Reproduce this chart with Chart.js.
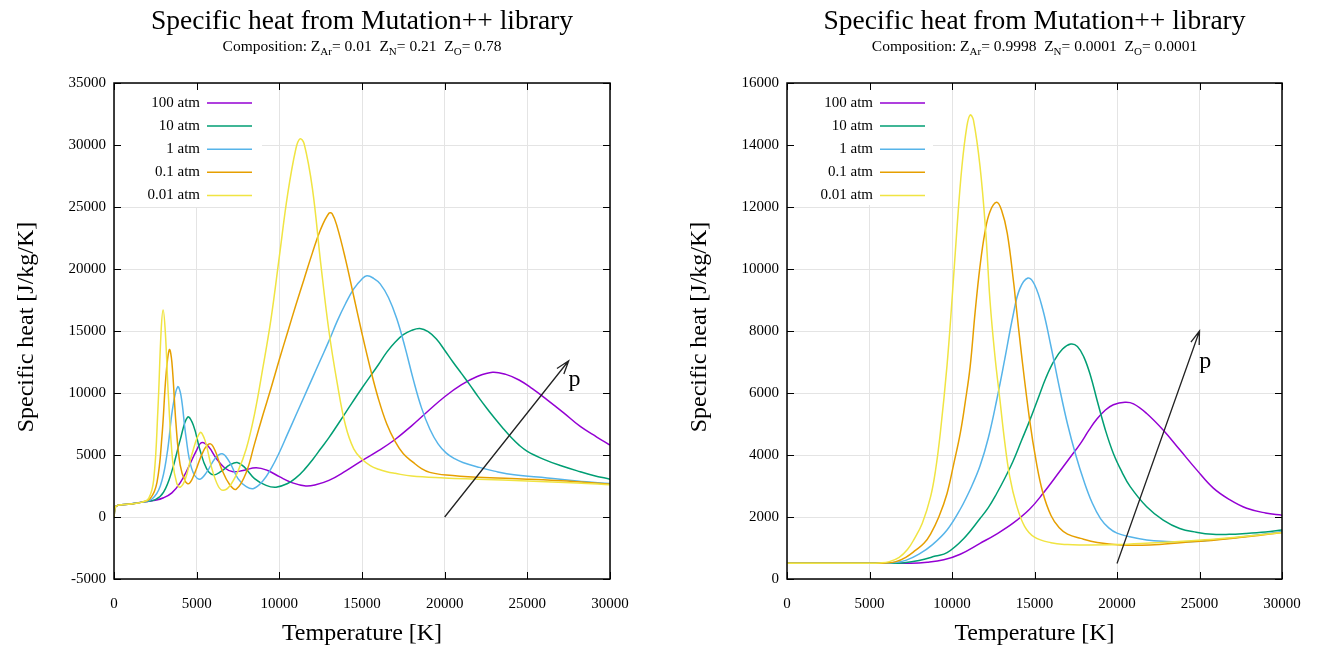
<!DOCTYPE html>
<html>
<head>
<meta charset="utf-8">
<script src="https://cdn.jsdelivr.net/npm/chart.js@4.4.0/dist/chart.umd.min.js"></script>
<style>
  body { margin: 0; background: #fff; }
  #wrap { position: relative; width: 1317px; height: 649px; }
  canvas { position: absolute; top: 0; }
</style>
</head>
<body>
<div id="wrap">
  <canvas id="left" width="658" height="649" style="left:0"></canvas>
  <canvas id="right" width="659" height="649" style="left:658px"></canvas>
</div>
<script>
// pressures, legend order
const pressures = ['100 atm', '10 atm', '1 atm', '0.1 atm', '0.01 atm']
const colors = ['#9400d3', '#009e73', '#56b4e9', '#e69f00', '#f0e442']

// left chart: Z_Ar 0.01, Z_N 0.21, Z_O 0.78   [T (K), cp (J/kg/K)]
const left100 = [[0,0],[100,850],[1000,1050],[1700,1200],[2500,1350],[3000,1550],[3500,1950],[4000,2750],[4500,4000],[5000,5400],[5300,6000],[5700,5700],[6200,4700],[6700,3950],[7200,3650],[7800,3750],[8600,3980],[9300,3750],[10000,3250],[10800,2750],[11600,2500],[12200,2600],[13000,2950],[14000,3700],[15000,4550],[16000,5350],[17000,6250],[18000,7350],[19000,8550],[20000,9700],[21000,10650],[22000,11350],[22900,11680],[23700,11500],[24500,11050],[25300,10350],[26200,9450],[27200,8400],[28200,7300],[29200,6450],[30000,5800]]
const left10 = [[0,0],[100,850],[1000,1050],[1700,1200],[2500,1400],[3000,2000],[3500,3700],[4000,6200],[4450,8050],[4800,7400],[5200,5400],[5600,3900],[6000,3400],[6500,3700],[7000,4200],[7450,4400],[7900,4000],[8500,3100],[9200,2550],[9800,2400],[10500,2700],[11000,3150],[11500,3800],[12000,4600],[12500,5500],[13000,6400],[14000,8400],[15000,10400],[16000,12300],[16500,13300],[17000,14100],[17500,14700],[18000,15050],[18500,15200],[19000,14950],[19500,14350],[20000,13450],[20500,12500],[21000,11600],[21500,10700],[22000,9750],[22500,8850],[23000,8000],[23500,7200],[24000,6450],[24500,5800],[25000,5300],[26000,4650],[27000,4150],[28200,3650],[29000,3350],[30000,3050]]
const left1 = [[0,0],[100,850],[1000,1050],[1700,1200],[2300,1450],[2800,2500],[3200,5000],[3550,8800],[3850,10500],[4050,9800],[4350,6500],[4700,3900],[5150,3050],[5600,3600],[6100,4700],[6550,5100],[7000,4400],[7500,3100],[8000,2450],[8450,2300],[9000,2900],[9500,3900],[10000,5200],[10500,6700],[11000,8200],[11500,9700],[12000,11200],[12500,12700],[13000,14200],[13500,15800],[14000,17200],[14500,18400],[15000,19200],[15300,19450],[15700,19250],[16100,18800],[16600,17700],[17100,16000],[17600,13700],[18100,11100],[18600,8800],[19100,7100],[19600,5900],[20100,5150],[20600,4700],[21100,4400],[22100,4000],[23000,3700],[24200,3400],[26200,3150],[28000,2900],[30000,2700]]
const left01 = [[0,0],[100,850],[1000,1050],[1700,1200],[2200,1500],[2600,2800],[2900,6500],[3150,11500],[3350,13500],[3500,12500],[3750,7500],[4000,4200],[4300,2900],[4550,2700],[4900,3600],[5400,5300],[5800,5900],[6100,5400],[6500,3900],[7000,2600],[7400,2250],[8000,3600],[8500,5900],[9000,8200],[9500,10400],[10000,12700],[10500,14900],[11000,17100],[11500,19200],[12000,21300],[12500,23200],[13000,24500],[13200,24450],[13500,23400],[14000,20800],[14500,17800],[15000,14800],[15500,12000],[16000,9500],[16500,7500],[17000,6100],[17500,5100],[18100,4400],[18600,3900],[19100,3600],[20100,3380],[22000,3200],[25000,3050],[28000,2850],[30000,2650]]
const left001 = [[0,0],[100,850],[1000,1050],[1700,1200],[2100,1500],[2400,3000],[2650,8500],[2850,15000],[2970,16700],[3100,15000],[3300,9500],[3550,4500],[3800,2700],[4000,2400],[4300,3000],[4700,5000],[5200,6800],[5500,6200],[5900,4000],[6300,2500],[6600,2150],[7000,2500],[7500,3700],[8000,5500],[8500,8300],[9000,12000],[9500,16000],[10000,21000],[10500,26000],[11000,29700],[11250,30500],[11500,30100],[12000,26500],[12500,20500],[13000,15000],[13500,10800],[14000,7400],[14500,5500],[15000,4650],[15500,4150],[16000,3850],[16500,3650],[17000,3520],[18000,3300],[20000,3150],[22000,3050],[25000,2900],[28000,2750],[30000,2600]]

// right chart: Z_Ar 0.9998, Z_N 0.0001, Z_O 0.0001
const right100 = [[0,510],[7500,510],[8500,540],[9500,620],[10500,800],[11700,1150],[12700,1450],[13700,1800],[14700,2250],[15500,2750],[16500,3450],[17200,3950],[17760,4350],[18300,4800],[18770,5150],[19300,5450],[19780,5620],[20480,5700],[21000,5650],[21800,5340],[22810,4800],[23820,4160],[24830,3520],[25840,2930],[26850,2550],[27860,2280],[29000,2130],[30000,2060]]
const right10 = [[0,510],[6500,510],[7000,520],[8000,600],[9000,740],[9700,850],[10700,1300],[11700,1950],[12200,2300],[12700,2750],[13200,3250],[13700,3800],[14200,4450],[14700,5100],[15200,5800],[15700,6500],[16200,7050],[16700,7420],[17200,7580],[17600,7500],[18000,7150],[18400,6550],[18800,5750],[19300,4800],[19780,4050],[20300,3450],[20800,2980],[21800,2330],[22800,1900],[23800,1630],[24800,1510],[25800,1440],[26800,1440],[27800,1470],[29000,1520],[30000,1580]]
const right1 = [[0,510],[6000,510],[6500,530],[7200,600],[8000,800],[8800,1100],[9700,1580],[10500,2250],[11200,3000],[11700,3650],[12200,4550],[12700,5750],[13200,7100],[13700,8500],[14100,9350],[14600,9710],[15000,9500],[15500,8700],[16000,7500],[16500,6200],[17000,5000],[17500,4000],[18000,3150],[18500,2450],[19000,1950],[19500,1650],[20000,1480],[20700,1370],[21800,1260],[23000,1210],[23800,1200],[25000,1220],[25800,1260],[27000,1320],[28500,1420],[30000,1530]]
const right01 = [[0,510],[5500,510],[6000,520],[6600,560],[7200,700],[7800,930],[8300,1150],[8700,1450],[9200,2000],[9700,2760],[10100,3700],[10500,4700],[10800,5700],[11100,6850],[11400,8600],[11700,10100],[12000,11200],[12300,11850],[12700,12150],[13000,11900],[13350,11150],[13750,9500],[13850,9000],[14200,7300],[14700,5150],[15100,3800],[15500,2800],[16000,2050],[16500,1650],[17000,1450],[17800,1310],[18800,1180],[20200,1100],[22000,1100],[24000,1180],[26000,1260],[28000,1370],[30000,1500]]
const right001 = [[0,510],[5000,510],[5600,520],[6200,560],[6800,700],[7300,950],[7700,1280],[8200,1800],[8700,2650],[9000,3500],[9300,4750],[9700,6900],[10000,9000],[10300,11300],[10600,13300],[10900,14600],[11100,14970],[11300,14800],[11700,13300],[12050,11150],[12300,9000],[12600,7200],[12900,5800],[13200,4400],[13500,3300],[13900,2400],[14400,1700],[15000,1350],[16000,1170],[17000,1110],[18000,1100],[20000,1110],[22000,1160],[24000,1220],[26000,1290],[28000,1390],[30000,1500]]

const xTicks = [0, 5000, 10000, 15000, 20000, 25000, 30000]
const leftYRange = [-5000, 35000, 5000]
const rightYRange = [0, 16000, 2000]

// pressure arrow [from, to] and the "p" label, in data units
const leftArrow = [[20000, 0], [27500, 12600]]
const leftArrowLabel = [27850, 11050]
const rightArrow = [[20000, 500], [25000, 8000]]
const rightArrowLabel = [25350, 7000]

const title = 'Specific heat from Mutation++ library'
// [text, subscript?]
const leftComp = [['Composition: Z', 0], ['Ar', 1], ['= 0.01  Z', 0], ['N', 1], ['= 0.21  Z', 0], ['O', 1], ['= 0.78', 0]]
const rightComp = [['Composition: Z', 0], ['Ar', 1], ['= 0.9998  Z', 0], ['N', 1], ['= 0.0001  Z', 0], ['O', 1], ['= 0.0001', 0]]

const SERIF = "'Liberation Serif', 'DejaVu Serif', serif"

const decor = {
  id: 'decor',
  afterDatasetsDraw(chart, args, o) {
    const {ctx, chartArea: a, scales: {x, y}} = chart
    ctx.save()

    // arrow
    const x0 = x.getPixelForValue(o.arrow[0][0]), y0 = y.getPixelForValue(o.arrow[0][1])
    const x1 = x.getPixelForValue(o.arrow[1][0]), y1 = y.getPixelForValue(o.arrow[1][1])
    ctx.strokeStyle = '#222'
    ctx.lineWidth = 1.3
    ctx.beginPath()
    ctx.moveTo(x0, y0)
    ctx.lineTo(x1, y1)
    const ang = Math.atan2(y1 - y0, x1 - x0)
    const hl = 14, ha = 0.32
    ctx.moveTo(x1 - hl * Math.cos(ang - ha), y1 - hl * Math.sin(ang - ha))
    ctx.lineTo(x1, y1)
    ctx.lineTo(x1 - hl * Math.cos(ang + ha), y1 - hl * Math.sin(ang + ha))
    ctx.stroke()
    ctx.fillStyle = '#000'
    ctx.font = '24px ' + SERIF
    ctx.textAlign = 'center'
    ctx.textBaseline = 'middle'
    ctx.fillText('p', x.getPixelForValue(o.label[0]), y.getPixelForValue(o.label[1]))

    // key box
    ctx.fillStyle = '#fff'
    ctx.fillRect(a.left + 1, a.top + 1, o.keyW, o.keyH)
    ctx.font = '15px ' + SERIF
    ctx.textAlign = 'right'
    pressures.forEach((p, i) => {
      const ry = a.top + 20 + i * 23.1
      ctx.fillStyle = '#000'
      ctx.fillText(p, a.left + 86, ry)
      ctx.strokeStyle = colors[i]
      ctx.lineWidth = 1.5
      ctx.beginPath()
      ctx.moveTo(a.left + 93, ry)
      ctx.lineTo(a.left + 138, ry)
      ctx.stroke()
    })

    // border with inward ticks
    ctx.strokeStyle = '#000'
    ctx.lineWidth = 1.5
    ctx.strokeRect(a.left, a.top, a.right - a.left, a.bottom - a.top)
    ctx.lineWidth = 1
    ctx.beginPath()
    x.ticks.forEach(t => {
      const px = Math.round(x.getPixelForValue(t.value)) + 0.5
      ctx.moveTo(px, a.bottom); ctx.lineTo(px, a.bottom - 7)
      ctx.moveTo(px, a.top); ctx.lineTo(px, a.top + 7)
    })
    y.ticks.forEach(t => {
      const py = Math.round(y.getPixelForValue(t.value)) + 0.5
      ctx.moveTo(a.left, py); ctx.lineTo(a.left + 7, py)
      ctx.moveTo(a.right, py); ctx.lineTo(a.right - 7, py)
    })
    ctx.stroke()
    ctx.restore()
  },
  afterDraw(chart, args, o) {
    const {ctx, chartArea: a} = chart
    const cx = (a.left + a.right) / 2
    ctx.save()
    ctx.fillStyle = '#000'
    ctx.textBaseline = 'alphabetic'
    ctx.textAlign = 'center'
    ctx.font = '27.5px ' + SERIF
    ctx.fillText(title, cx, 29)

    // subtitle with subscripts
    const big = '15.5px ' + SERIF, small = '11px ' + SERIF
    let w = 0
    o.comp.forEach(([s, sub]) => { ctx.font = sub ? small : big; w += ctx.measureText(s).width })
    let px = cx - w / 2
    ctx.textAlign = 'left'
    o.comp.forEach(([s, sub]) => {
      ctx.font = sub ? small : big
      ctx.fillText(s, px, sub ? 55 : 51)
      px += ctx.measureText(s).width
    })

    // axis titles
    ctx.font = '24px ' + SERIF
    ctx.textAlign = 'center'
    ctx.textBaseline = 'middle'
    ctx.fillText('Temperature [K]', cx, a.bottom + 55)
    ctx.translate(a.left - 87, (a.top + a.bottom) / 2 - 4)
    ctx.rotate(-Math.PI / 2)
    ctx.fillText('Specific heat [J/kg/K]', 0, 0)
    ctx.restore()
  }
}

function makeChart(id, series, yr, arrow, label, comp, keyW, keyH, rightPad) {
  const ctx = document.getElementById(id).getContext('2d')
  const datasets = series.map((s, i) => ({
    label: pressures[i],
    data: s.map(([t, c]) => ({x: t, y: c})),
    borderColor: colors[i],
    borderWidth: 1.5,
    pointRadius: 0,
    fill: false,
    tension: 0.4,
    order: series.length - i
  }))
  const tickFont = {family: SERIF, size: 15}
  return new Chart(ctx, {
    type: 'line',
    data: {datasets},
    plugins: [decor],
    options: {
      responsive: false,
      animation: false,
      devicePixelRatio: 1,
      layout: {padding: {top: 83, right: rightPad, left: 0, bottom: 0}},
      scales: {
        x: {
          type: 'linear',
          min: 0, max: 30000,
          afterBuildTicks: sc => { sc.ticks = xTicks.map(v => ({value: v})) },
          afterFit: sc => { sc.height = 70 },
          grid: {color: '#e4e4e4', drawTicks: false},
          border: {display: false},
          ticks: {color: '#000', font: tickFont, padding: 16, maxRotation: 0, callback: v => String(v)}
        },
        y: {
          min: yr[0], max: yr[1],
          afterFit: sc => { sc.width = id === 'left' ? 114 : 129 },
          grid: {color: '#e4e4e4', drawTicks: false},
          border: {display: false},
          ticks: {color: '#000', font: tickFont, padding: 8, stepSize: yr[2], callback: v => String(v)}
        }
      },
      plugins: {
        legend: {display: false},
        tooltip: {enabled: false},
        decor: {arrow, label, comp, keyW, keyH}
      }
    }
  })
}

makeChart('left', [left100, left10, left1, left01, left001], leftYRange, leftArrow, leftArrowLabel, leftComp, 147, 123, 48)
makeChart('right', [right100, right10, right1, right01, right001], rightYRange, rightArrow, rightArrowLabel, rightComp, 145, 121, 35)
</script>
</body>
</html>
